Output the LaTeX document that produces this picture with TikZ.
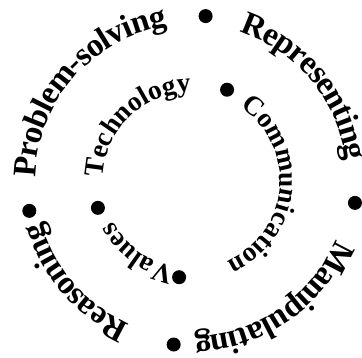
\documentclass[tikz,border=0pt]{standalone}
\usepackage{fontspec}
\setmainfont{Liberation Serif}
\usetikzlibrary{decorations.text}

\newcommand{\outerfont}{\bfseries\fontsize{33}{33}\selectfont}
\newcommand{\innerfont}{\bfseries\fontsize{27.5}{27.5}\selectfont}
% word centred on a clockwise arc: mid angle, radius, raise, font, text
\newcommand{\ringword}[5]{%
  \path[decorate, decoration={text along path, text align=center,
      raise=#3, text={|#4|#5}}]
    (#1+80:#2) arc[start angle=#1+80, end angle=#1-80, radius=#2];}

\begin{document}
\begin{tikzpicture}[ringdot/.style={fill=black}]
  \useasboundingbox (-191.5pt,-177.5pt) rectangle (170.5pt,180.5pt);
  \clip (-191.5pt,-177.5pt) rectangle (170.5pt,180.5pt);

  % Outer ring of processes
  \ringword{139}{166pt}{-10pt}{\outerfont}{Problem-solving}
  \ringword{39.6}{166pt}{-10pt}{\outerfont}{Representing}
  \ringword{-55.5}{166pt}{-10pt}{\outerfont}{Manipulating}
  \ringword{221}{166pt}{-10pt}{\outerfont}{Reasoning}
  \foreach \a in {85.1, -7.8, 263.8, 190.6}
    \fill[ringdot] (\a:165pt) circle[radius=7pt];

  % Inner ring
  \ringword{134.3}{88.5pt}{0pt}{\innerfont}{Technology}
  \ringword{-4.75}{88.5pt}{0pt}{\innerfont}{Communication}
  \ringword{233.3}{88.5pt}{0pt}{\innerfont}{Values}
  \foreach \a in {68.6, 262.7, 196.3}
    \fill[ringdot] (\a:97.5pt) circle[radius=7pt];
\end{tikzpicture}
\end{document}
